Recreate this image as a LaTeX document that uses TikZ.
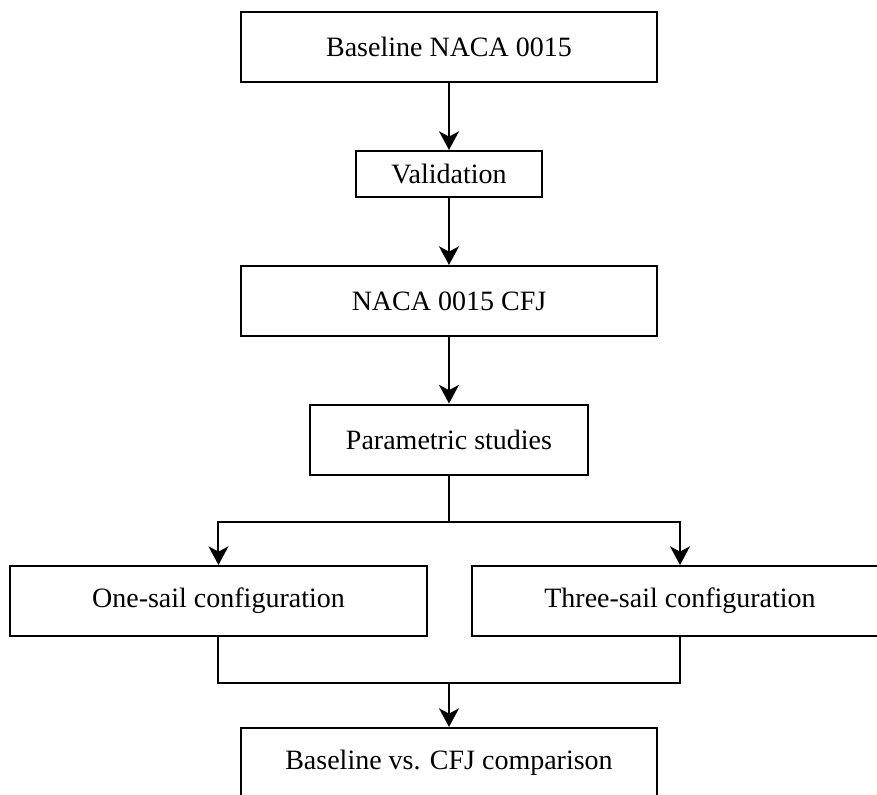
\documentclass[tikz,border=0pt]{standalone}
\usepackage{fontspec}
\setmainfont{Liberation Serif}
\usetikzlibrary{arrows.meta,positioning}

\tikzset{
  stage/.style={draw, line width=1.5pt, minimum height=52.5pt, inner sep=0pt,
    font=\fontsize{21}{25}\selectfont},
  flow/.style={line width=1.5pt, -{Stealth[length=14pt,width=15pt,inset=4pt]}},
  link/.style={line width=1.5pt}
}

\begin{document}
\begin{tikzpicture}[x=0.75pt,y=-0.75pt,on grid]
  \useasboundingbox (0,0) rectangle (877,794);

  \node[stage, minimum width=312pt] (base) at (449,46.5) {Baseline NACA 0015};
  \node[stage, minimum width=139.5pt, minimum height=34.5pt] (valid) [below=95.6pt of base] {Validation};
  \node[stage, minimum width=312pt] (cfj) [below=95.25pt of valid] {NACA 0015 CFJ};
  \node[stage, minimum width=208.5pt] (param) [below=103.9pt of cfj] {Parametric studies};

  \node[stage, minimum width=312.75pt] (one) [below left=121.1pt and 172.9pt of param] {One-sail configuration};
  \node[stage, minimum width=312.75pt] (three) [below right=121.1pt and 173.25pt of param] {Three-sail configuration};
  \node[stage, minimum width=312pt] (comp) [below=242.6pt of param] {Baseline vs. CFJ comparison};

  \coordinate[below=34.5pt of param.south] (split);
  \coordinate[below=34.5pt of one.south] (merge);

  \draw[flow] (base) -- (valid);
  \draw[flow] (valid) -- (cfj);
  \draw[flow] (cfj) -- (param);
  \draw[link] (param) -- (split);
  \draw[flow] (split) -| (one.north);
  \draw[flow] (split) -| (three.north);
  \draw[link] (one.south) -- (merge) -| (three.south);
  \draw[flow] (merge -| comp) -- (comp);
\end{tikzpicture}
\end{document}
